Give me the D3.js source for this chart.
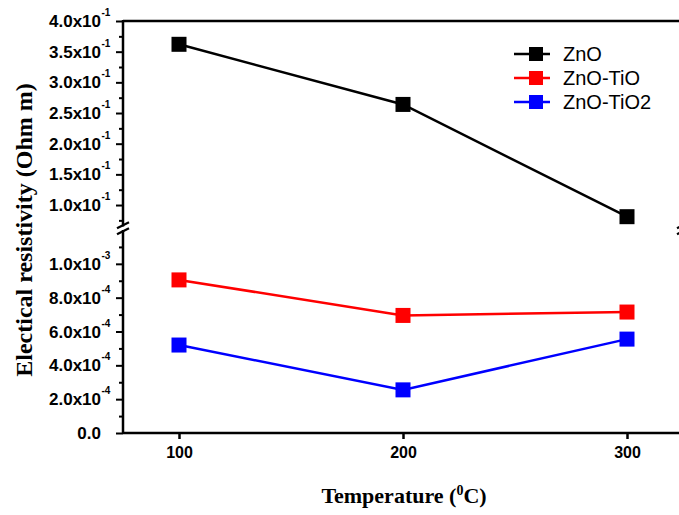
<!DOCTYPE html>
<html>
<head>
<meta charset="utf-8">
<script src="https://cdn.jsdelivr.net/npm/d3@7"></script>
<style>
  body { margin: 0; background: #fff; }
  svg { display: block; }
</style>
</head>
<body>
<script>
// data
var temps = [100, 200, 300];
var zno = [3.62e-1, 2.64e-1, 0.81e-1];        // upper (broken) segment
var znoTiO = [9.05e-4, 6.95e-4, 7.15e-4];     // lower segment
var znoTiO2 = [5.2e-4, 2.55e-4, 5.55e-4];     // lower segment
var seriesNames = ["ZnO", "ZnO-TiO", "ZnO-TiO2"];
var seriesColors = ["#000000", "#ff0000", "#0000ff"];
var upTicks = [0.10, 0.15, 0.20, 0.25, 0.30, 0.35, 0.40];
var upLabels = ["1.0x10", "1.5x10", "2.0x10", "2.5x10", "3.0x10", "3.5x10", "4.0x10"];
var upMinor = [0.075, 0.125, 0.175, 0.225, 0.275, 0.325, 0.375];
var loTicks = [0, 2e-4, 4e-4, 6e-4, 8e-4, 1e-3];
var loLabels = ["0.0", "2.0x10", "4.0x10", "6.0x10", "8.0x10", "1.0x10"];
var loSup = ["", "-4", "-4", "-4", "-4", "-3"];
var loMinor = [1e-4, 3e-4, 5e-4, 7e-4, 9e-4, 1.1e-3];
var xTicks = [100, 200, 300];

var w = 679, h = 515;
var padL = 123, padR = 683, padT = 21, padB = 433;
var upBottom = 226.5, loTop = 230;

var svg = d3.select("body").append("svg")
    .attr("width", w)
    .attr("height", h);

var x = d3.scaleLinear().domain([75, 325]).range([padL, padR]);
var yUp = d3.scaleLinear().domain([0.065, 0.40]).range([upBottom, padT]);
var yLo = d3.scaleLinear().domain([0, 1.2e-3]).range([padB, loTop]);

// frame lines
svg.append("line").attr("x1", padL).attr("x2", padR).attr("y1", padT).attr("y2", padT)
    .attr("stroke", "#000").attr("stroke-width", 2.5);
[padL, padR].forEach(function(xx) {
    svg.append("line").attr("x1", xx).attr("x2", xx).attr("y1", padT - 1).attr("y2", upBottom)
        .attr("stroke", "#000").attr("stroke-width", 2.5);
    svg.append("line").attr("x1", xx).attr("x2", xx).attr("y1", loTop).attr("y2", padB + 1)
        .attr("stroke", "#000").attr("stroke-width", 2.5);
    // break marks
    [-3, 3].forEach(function(o) {
        svg.append("line")
            .attr("x1", xx - 6).attr("y1", (upBottom + loTop) / 2 + o + 3)
            .attr("x2", xx + 6).attr("y2", (upBottom + loTop) / 2 + o - 3)
            .attr("stroke", "#000").attr("stroke-width", 2.2);
    });
});

// y axes (upper and lower)
function yAxis(scale, ticks, size) {
    var g = svg.append("g").attr("transform", "translate(" + padL + ",0)")
        .call(d3.axisLeft(scale).tickValues(ticks).tickSize(size).tickFormat(""));
    g.select(".domain").remove();
    g.selectAll(".tick line").attr("stroke-width", 2);
    return g;
}
yAxis(yUp, upTicks, 7);
yAxis(yUp, upMinor, 4);
yAxis(yLo, loTicks, 7);
yAxis(yLo, loMinor, 4);

function yLabels(scale, ticks, labels, sups) {
    var g = svg.append("g");
    g.selectAll("text.main").data(ticks).enter().append("text")
        .attr("class", "main")
        .attr("x", 101)
        .attr("y", function(d) { return scale(d); })
        .attr("dy", "0.36em")
        .attr("text-anchor", "end")
        .attr("font-family", "Liberation Sans, Arial, sans-serif")
        .attr("font-weight", "bold")
        .attr("font-size", "17px")
        .text(function(d, i) { return labels[i]; });
    g.selectAll("text.sup").data(ticks).enter().append("text")
        .attr("class", "sup")
        .attr("x", 101.5)
        .attr("y", function(d) { return scale(d) - 5; })
        .attr("text-anchor", "start")
        .attr("font-family", "Liberation Sans, Arial, sans-serif")
        .attr("font-weight", "bold")
        .attr("font-size", "10px")
        .text(function(d, i) { return sups[i]; });
}
yLabels(yUp, upTicks, upLabels, upTicks.map(function() { return "-1"; }));
yLabels(yLo, loTicks, loLabels, loSup);

// x axis
var gx = svg.append("g").attr("transform", "translate(0," + padB + ")")
    .call(d3.axisBottom(x).tickValues(xTicks).tickSize(6).tickPadding(8).tickFormat(d3.format("d")));
gx.select(".domain").attr("stroke-width", 2.5).attr("d", "M" + padL + ",0H" + padR);
gx.selectAll(".tick line").attr("stroke-width", 2.5);
gx.selectAll(".tick text")
    .attr("font-family", "Liberation Sans, Arial, sans-serif")
    .attr("font-weight", "bold")
    .attr("font-size", "16px")
    .attr("fill", "#000");

// series
var series = [
    { vals: zno, y: yUp },
    { vals: znoTiO, y: yLo },
    { vals: znoTiO2, y: yLo }
];
var line = d3.line();
series.forEach(function(s, si) {
    var pts = temps.map(function(t, i) { return [x(t), s.y(s.vals[i])]; });
    svg.append("path")
        .attr("d", line(pts))
        .attr("fill", "none")
        .attr("stroke", seriesColors[si])
        .attr("stroke-width", 2.5);
    svg.selectAll(null).data(pts).enter().append("rect")
        .attr("x", function(d) { return d[0] - 7.5; })
        .attr("y", function(d) { return d[1] - 7.5; })
        .attr("width", 15)
        .attr("height", 15)
        .attr("fill", seriesColors[si]);
});

// legend
var lg = svg.append("g").attr("transform", "translate(514,54)");
seriesNames.forEach(function(n, i) {
    var row = lg.append("g").attr("transform", "translate(0," + i * 24 + ")");
    row.append("line").attr("x1", 0).attr("x2", 36).attr("y1", 0).attr("y2", 0)
        .attr("stroke", seriesColors[i]).attr("stroke-width", 2.5);
    row.append("rect").attr("x", 15).attr("y", -7).attr("width", 14).attr("height", 14)
        .attr("fill", seriesColors[i]);
    row.append("text").attr("x", 49).attr("y", 0).attr("dy", "0.36em")
        .attr("font-family", "Liberation Sans, Arial, sans-serif")
        .attr("font-size", "20px")
        .text(n);
});

// axis titles
var xt = svg.append("text")
    .attr("x", 404).attr("y", 503)
    .attr("text-anchor", "middle")
    .attr("font-family", "Liberation Serif, Times New Roman, serif")
    .attr("font-weight", "bold")
    .attr("font-size", "22px");
xt.append("tspan").text("Temperature (");
xt.append("tspan").attr("dy", -8).attr("font-size", "14px").text("0");
xt.append("tspan").attr("dy", 8).text("C)");

svg.append("text")
    .attr("transform", "translate(32,230) rotate(-90)")
    .attr("text-anchor", "middle")
    .attr("font-family", "Liberation Serif, Times New Roman, serif")
    .attr("font-weight", "bold")
    .attr("font-size", "24px")
    .text("Electical resistivity (Ohm m)");
</script>
</body>
</html>
